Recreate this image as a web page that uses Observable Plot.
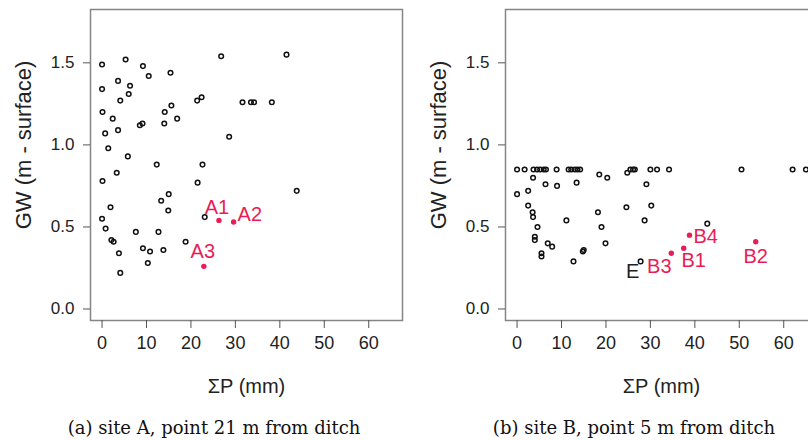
<!DOCTYPE html>
<html>
<head>
<meta charset="utf-8">
<script src="https://cdn.jsdelivr.net/npm/d3@7"></script>
<script src="https://cdn.jsdelivr.net/npm/@observablehq/plot@0.6"></script>
<style>
  html, body { margin: 0; padding: 0; background: #fff; overflow: hidden; }
  #page { position: relative; width: 808px; height: 440px; overflow: hidden; background: #fff; }
  .panel { position: absolute; top: 0; }
  .panel svg { max-width: none; }
  .caption {
    position: absolute; top: 417px; transform: translateX(-50%);
    font-family: "DejaVu Serif", "Liberation Serif", serif; font-size: 18px;
    color: #111; white-space: nowrap; line-height: 22px;
  }
</style>
</head>
<body>
<div id="page">
  <div class="panel" id="panelA" style="left:0"></div>
  <div class="panel" id="panelB" style="left:404px"></div>
  <div class="caption" style="left:214px">(a) site A, point 21 m from ditch</div>
  <div class="caption" style="left:634px">(b) site B, point 5 m from ditch</div>
</div>
<script>
// Axis ticks
const pTicks = [0, 10, 20, 30, 40, 50, 60];
const gwTicks = [0, 0.5, 1.0, 1.5];

// Site A (21 m from ditch): cumulative rainfall ΣP (mm) vs groundwater depth GW (m below surface)
const siteA_P = [0, 5.3, 9.2, 10.5, 15.4, 26.8, 41.5, 3.6, 0, 6.3, 6.0, 4.1, 21.4, 22.4, 31.6, 33.5, 34.2, 38.2,
  0.1, 2.4, 14.1, 15.6, 16.9, 14.0, 8.5, 9.1, 0.7, 3.6, 28.6, 1.4, 5.8, 12.3, 22.6, 3.3, 0.1, 21.5, 43.8,
  15.0, 13.3, 1.9, 14.9, 23.1, 0, 0.8, 7.6, 12.7, 2.1, 2.6, 18.8, 9.2, 10.8, 13.8, 3.8, 10.3, 4.1];
const siteA_GW = [1.49, 1.52, 1.48, 1.42, 1.44, 1.54, 1.55, 1.39, 1.34, 1.36, 1.31, 1.27, 1.27, 1.29, 1.26, 1.26, 1.26, 1.26,
  1.20, 1.16, 1.20, 1.24, 1.16, 1.13, 1.12, 1.13, 1.07, 1.09, 1.05, 0.98, 0.93, 0.88, 0.88, 0.83, 0.78, 0.77, 0.72,
  0.70, 0.66, 0.62, 0.60, 0.56, 0.55, 0.49, 0.47, 0.47, 0.42, 0.41, 0.41, 0.37, 0.35, 0.36, 0.34, 0.28, 0.22];

// Site A highlighted events
const eventsA = ["A1", "A2", "A3"];
const eventsA_P = [26.3, 29.6, 22.9];
const eventsA_GW = [0.54, 0.53, 0.26];

// Site B (5 m from ditch)
const siteB_P = [0, 1.7, 3.7, 4.5, 5.2, 6.0, 6.5, 8.9, 11.6, 12.2, 13.0, 13.6, 14.2, 25.5, 26.1, 26.5, 30.0, 31.5, 34.2, 50.5, 62.0, 65.0,
  18.5, 20.3, 24.8, 3.6, 6.4, 9.0, 13.4, 29.1, 2.5, 0, 2.5, 3.5, 3.6, 18.2, 24.6, 30.2, 11.1, 28.7, 4.6, 19.0, 42.8,
  4.0, 4.0, 6.9, 7.9, 19.9, 15.0, 14.8, 5.5, 5.5, 12.7];
const siteB_GW = [0.85, 0.85, 0.85, 0.85, 0.85, 0.85, 0.85, 0.85, 0.85, 0.85, 0.85, 0.85, 0.85, 0.85, 0.85, 0.85, 0.85, 0.85, 0.85, 0.85, 0.85, 0.85,
  0.82, 0.80, 0.83, 0.80, 0.76, 0.75, 0.77, 0.76, 0.72, 0.70, 0.63, 0.59, 0.56, 0.59, 0.62, 0.63, 0.54, 0.54, 0.50, 0.50, 0.52,
  0.44, 0.42, 0.40, 0.38, 0.40, 0.36, 0.35, 0.34, 0.32, 0.29];

// Site B labelled events
const eventsB = ["B1", "B2", "B3", "B4"];
const eventsB_P = [37.5, 53.7, 34.7, 38.8];
const eventsB_GW = [0.37, 0.41, 0.34, 0.45];
const otherB = ["E"];
const otherB_P = [27.8];
const otherB_GW = [0.29];

const RED = "#ea1c55";
const SANS = "'Liberation Sans', Arial, Helvetica, sans-serif";

// Label placement relative to each marked point
const labelOffset = {
  A1: {dx: -2, dy: -13, anchor: "middle"},
  A2: {dx: 4, dy: -7, anchor: "start"},
  A3: {dx: -1, dy: -15, anchor: "middle"},
  B1: {dx: 10, dy: 12, anchor: "middle"},
  B2: {dx: 0, dy: 15, anchor: "middle"},
  B3: {dx: -12, dy: 13, anchor: "middle"},
  B4: {dx: 4, dy: 1, anchor: "start"},
  E: {dx: -8, dy: 10, anchor: "middle"}
};

function labelMarks(names, P, GW, color) {
  return names.map((name, i) => Plot.text([i], {
    x: (j) => P[j], y: (j) => GW[j], text: () => name,
    dx: labelOffset[name].dx, dy: labelOffset[name].dy,
    textAnchor: labelOffset[name].anchor,
    fill: color, fontSize: 20, fontFamily: SANS
  }));
}

function panel({width, marginLeft, marginRight, P, GW, evNames, evP, evGW, otherNames = [], otherP = [], otherGW = []}) {
  const idx = d3.range(P.length);
  const ev = d3.range(evNames.length);
  const ot = d3.range(otherNames.length);
  return Plot.plot({
    width, height: 405,
    marginLeft, marginRight, marginTop: 9, marginBottom: 85,
    style: {fontFamily: SANS, color: "#222", background: "white", overflow: "visible"},
    x: {domain: [-2.6, 67.6]},
    y: {domain: [-0.07, 1.825]},
    marks: [
      Plot.frame({stroke: "#858585", strokeWidth: 1.5}),
      Plot.axisX(pTicks, {tickSize: 8, tickPadding: 8, fontSize: 18, label: null, stroke: "#555"}),
      Plot.axisY(gwTicks, {tickSize: 7, tickPadding: 9, fontSize: 17, label: null, stroke: "#555", tickFormat: d3.format(".1f")}),
      Plot.text(["ΣP (mm)"], {frameAnchor: "bottom", lineAnchor: "middle", textAnchor: "middle", dy: 66, fontSize: 20, fill: "#222"}),
      Plot.text(["GW (m - surface)"], {frameAnchor: "left", textAnchor: "middle", lineAnchor: "middle", rotate: -90, dx: -67, dy: -20, fontSize: 22, fill: "#222"}),
      Plot.dot(idx, {x: (i) => P[i], y: (i) => GW[i], r: 2.3, stroke: "#111", strokeWidth: 1.5, fill: "none"}),
      Plot.dot(ot, {x: (i) => otherP[i], y: (i) => otherGW[i], r: 2.3, stroke: "#111", strokeWidth: 1.5, fill: "none"}),
      Plot.dot(ev, {x: (i) => evP[i], y: (i) => evGW[i], r: 2.7, fill: RED, stroke: "none"}),
      ...labelMarks(evNames, evP, evGW, RED),
      ...labelMarks(otherNames, otherP, otherGW, "#222")
    ]
  });
}

document.getElementById("panelA").append(panel({
  width: 404, marginLeft: 90, marginRight: 2,
  P: siteA_P, GW: siteA_GW, evNames: eventsA, evP: eventsA_P, evGW: eventsA_GW
}));

document.getElementById("panelB").append(panel({
  width: 420, marginLeft: 101, marginRight: 7,
  P: siteB_P, GW: siteB_GW, evNames: eventsB, evP: eventsB_P, evGW: eventsB_GW,
  otherNames: otherB, otherP: otherB_P, otherGW: otherB_GW
}));
</script>
</body>
</html>
